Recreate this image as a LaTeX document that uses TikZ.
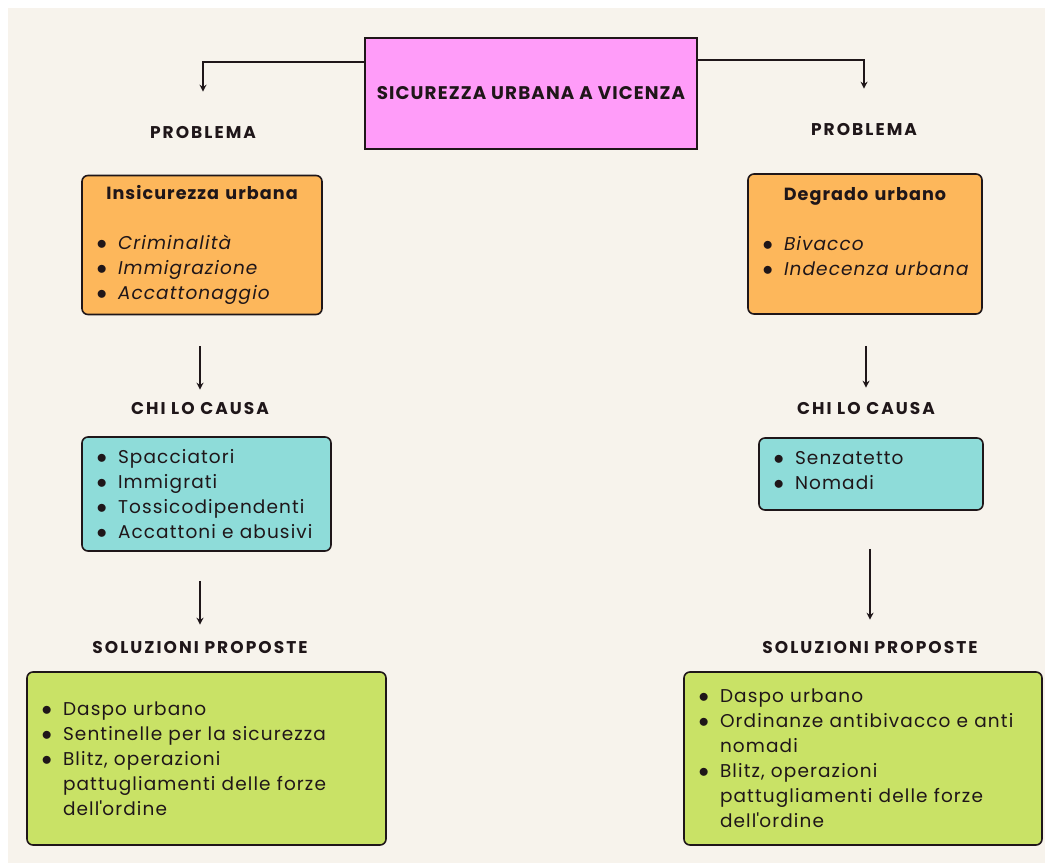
\documentclass[tikz,border=0pt]{standalone}
\usepackage{fontspec}
\setmainfont{Poppins}[LetterSpace=6]
\newfontfamily\headfont{Poppins}[LetterSpace=12]
\usepackage{enumitem}
\usetikzlibrary{arrows.meta}

\definecolor{cream}{HTML}{F7F3EC}
\definecolor{ink}{HTML}{1F1619}
\definecolor{pinkbox}{HTML}{FF9CF9}
\definecolor{orangebox}{HTML}{FDB75B}
\definecolor{cyanbox}{HTML}{8EDCD9}
\definecolor{greenbox}{HTML}{C9E266}

\newcommand{\blist}[1]{%
  \begin{itemize}[leftmargin=18pt,labelsep=11pt,itemsep=0pt,topsep=0pt,parsep=0pt,partopsep=0pt,label=\scalebox{1.2}{$\bullet$}]#1\end{itemize}}

\tikzset{
  box/.style={draw=ink, line width=1.6pt, rounded corners=6pt, inner xsep=18pt, inner ysep=0pt,
    text=ink, font=\fontsize{18.5}{25}\selectfont},
  head/.style={inner sep=0pt, text=ink, font=\headfont\fontsize{17}{20}\selectfont\bfseries},
  link/.style={line width=1.6pt, draw=ink, -{Stealth[length=7pt,width=7pt]}}
}

\begin{document}
\begin{tikzpicture}[x=1pt,y=-1pt]

	% background
	\fill [white] (0,0) rectangle (1045,863);
	\fill [cream] (8,8) rectangle (1045,863);

	% title
	\node [draw=ink, line width=1.6pt, fill=pinkbox, minimum width=332pt, minimum height=111pt,
	  text=ink, font=\fontsize{18.3}{20}\selectfont\bfseries] (titolo) at (531,93.5) {SICUREZZA URBANA A VICENZA};

	% left column
	\node [head] (probL) at (203,133) {PROBLEMA};
	\node [box, fill=orangebox, text width=204pt, minimum height=139pt] (insic) at (202,245)
	  {{\centering\fontsize{17.6}{25}\selectfont\bfseries Insicurezza urbana\par}\vspace{25pt}
	   \blist{\item \textit{Criminalità} \item \textit{Immigrazione} \item \textit{Accattonaggio}}};
	\node [head] (chiL) at (200,408) {CHI LO CAUSA};
	\node [box, fill=cyanbox, text width=213pt, minimum height=114pt] (causaL) at (206.5,494)
	  {\vspace*{-10pt}\blist{\item Spacciatori \item Immigrati \item Tossicodipendenti \item Accattoni e abusivi}};
	\node [head] (solL) at (200,647) {SOLUZIONI PROPOSTE};
	\node [box, fill=greenbox, text width=323pt, minimum height=173pt] (soluzL) at (206.5,758.5)
	  {\vspace*{-10pt}\blist{\item Daspo urbano \item Sentinelle per la sicurezza
	   \item Blitz, operazioni\\ pattugliamenti delle forze\\ dell\textquotesingle ordine}};

	% right column
	\node [head] (probR) at (864,130) {PROBLEMA};
	\node [box, fill=orangebox, text width=198pt, minimum height=140pt] (degrado) at (865,244)
	  {{\centering\fontsize{17.6}{25}\selectfont\bfseries Degrado urbano\par}\vspace{25pt}
	   \blist{\item \textit{Bivacco} \item \makebox[0pt][l]{\textit{Indecenza urbana}}}\vspace{25pt}};
	\node [head] (chiR) at (866,408) {CHI LO CAUSA};
	\node [box, fill=cyanbox, text width=188pt, minimum height=72pt] (causaR) at (871,474)
	  {\vspace*{-18pt}\blist{\item Senzatetto \item Nomadi}};
	\node [head] (solR) at (870,647) {SOLUZIONI PROPOSTE};
	\node [box, fill=greenbox, text width=322pt, minimum height=173pt] (soluzR) at (863,758.5)
	  {\vspace*{-12pt}\blist{\item Daspo urbano \item Ordinanze antibivacco e anti\\ nomadi
	   \item Blitz, operazioni\\ pattugliamenti delle forze\\ dell\textquotesingle ordine}};

	% connectors
	\draw [link, shorten >=35pt] ([yshift=-25pt]titolo.north west) -| (probL.north);
	\draw [link, shorten >=35pt] ([yshift=-23pt]titolo.north east) -| (probR.north);
	\draw [link, shorten <=31pt, shorten >=12pt] (insic.south -| chiL.north) -- (chiL.north);
	\draw [link, shorten <=31pt, shorten >=14pt] (degrado.south -| chiR.north) -- (chiR.north);
	\draw [link, shorten <=29pt, shorten >=16pt] (causaL.south -| solL.north) -- (solL.north);
	\draw [link, shorten <=38pt, shorten >=21pt] (causaR.south -| solR.north) -- (solR.north);

\end{tikzpicture}
\end{document}
